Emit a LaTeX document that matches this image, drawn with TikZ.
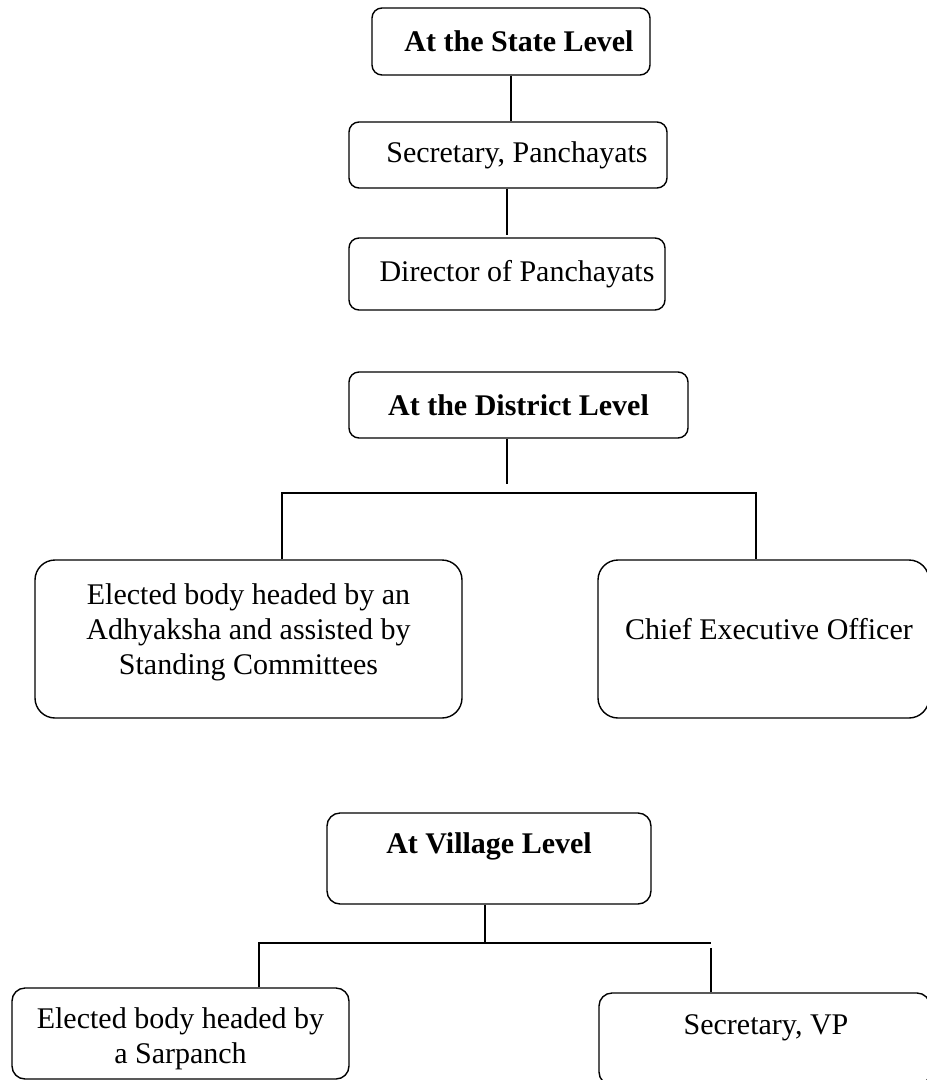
\documentclass[tikz,border=0pt]{standalone}
\usepackage{fontspec}
\setmainfont{Liberation Serif}
\begin{document}
\begin{tikzpicture}[x=1pt,y=-1pt,
  box/.style={draw, line width=1.4pt, inner sep=0pt, align=center, font=\fontsize{30}{35}\selectfont},
  txt/.style={inner sep=0pt, align=center, font=\fontsize{30}{35}\selectfont},
  conn/.style={line width=1.3pt}]
\useasboundingbox (0,0) rectangle (927,1080);
\clip (0,0) rectangle (927,1080);
% State level
\node[box, rounded corners=10pt, minimum width=278pt, minimum height=67pt] (st) at (511,41.5) {\hspace*{16pt}\bfseries At the State Level};
\node[box, rounded corners=10pt, minimum width=318pt, minimum height=66pt] (sec) at (508,155) {\hspace*{18pt}Secretary, Panchayats};
\node[box, rounded corners=10pt, minimum width=316pt, minimum height=72pt] (dir) at (507,274) {\hspace*{20pt}Director of Panchayats};
\coordinate (sj) at (507,235);
\draw[conn] (st.south) -- (st.south |- sec.north);
\draw[conn] (sj |- sec.south) -- (sj);
% District level
\node[box, rounded corners=10pt, minimum width=339pt, minimum height=66pt] (dist) at (518.5,405) {\bfseries At the District Level};
\node[box, rounded corners=20pt, minimum width=427pt, minimum height=158pt] (ed) at (248.5,639) {};
\node[txt] (edt) at (248.5,632) {Elected body headed by an\\Adhyaksha and assisted by\\Standing Committees};
\node[box, rounded corners=20pt, minimum width=331pt, minimum height=158pt] (ceo) at (763.5,639) {};
\node[txt] (ceot) at (769,629) {Chief Executive Officer};
\coordinate (dj) at (507,484);
\coordinate (dl) at (282,493);
\coordinate (dr) at (756,493);
\draw[conn] (dj |- dist.south) -- (dj);
\draw[conn] (ed.north -| dl) -- (dl) -- (dr) -- (ceo.north -| dr);
% Village level
\node[box, rounded corners=13pt, minimum width=324pt, minimum height=91pt] (vil) at (489,858.5) {};
\node[txt] (vilt) at (489,846) {\bfseries At Village Level};
\node[box, rounded corners=13pt, minimum width=337pt, minimum height=91pt] (vsp) at (180.5,1033.5) {};
\node[txt] (vspt) at (180.5,1039) {Elected body headed by\\a Sarpanch};
\node[box, rounded corners=13pt, minimum width=331pt, minimum height=92pt] (vsec) at (764.5,1039) {};
\node[txt] (vsect) at (766,1028) {Secretary, VP};
\coordinate (vj) at (485,943);
\coordinate (vl) at (259,943);
\coordinate (vr) at (711,943);
\coordinate (vr2) at (711,948);
\draw[conn] (vil.south -| vj) -- (vj);
\draw[conn] (vsp.north -| vl) -- (vl) -- (vr);
\draw[conn] (vr2) -- (vr2 |- vsec.north);
\end{tikzpicture}
\end{document}
